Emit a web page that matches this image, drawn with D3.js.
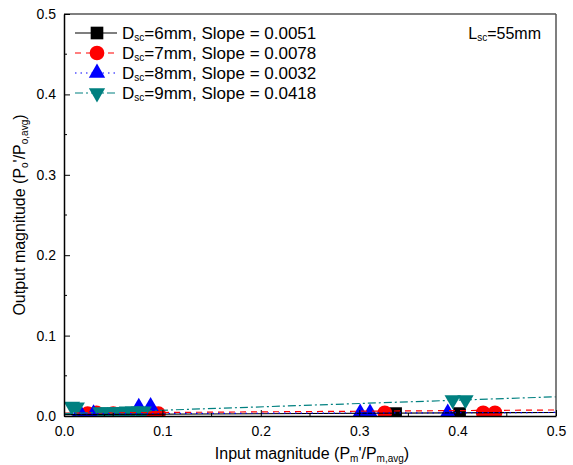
<!DOCTYPE html>
<html>
<head>
<meta charset="utf-8">
<script src="https://cdn.jsdelivr.net/npm/d3@7"></script>
<style>
  body { margin: 0; background: #fff; }
  svg text { font-family: "Liberation Sans", Arial, sans-serif; }
</style>
</head>
<body>
<div id="chart"></div>
<script>
// values (x = input magnitude, y = output magnitude)
const d6x = [0.020, 0.045, 0.060, 0.092, 0.337, 0.402];
const d6y = [0.002, 0.002, 0.003, 0.002, 0.003, 0.003];
const d7x = [0.024, 0.033, 0.050, 0.090, 0.096, 0.326, 0.426, 0.438];
const d7y = [0.003, 0.004, 0.003, 0.004, 0.003, 0.004, 0.004, 0.004];
const d8x = [0.016, 0.030, 0.076, 0.088, 0.301, 0.311, 0.390];
const d8y = [0.005, 0.003, 0.011, 0.012, 0.004, 0.004, 0.004];
const d9x = [0.008, 0.013, 0.037, 0.045, 0.052, 0.058, 0.064, 0.070, 0.076, 0.081, 0.395, 0.408];
const d9y = [0.012, 0.011, 0.005, 0.005, 0.005, 0.005, 0.006, 0.006, 0.006, 0.006, 0.020, 0.020];

const slopes = [0.0051, 0.0078, 0.0032, 0.0418];
const intercepts = [0.0018, 0.0036, 0.0028, 0.0030];
const labels = ["6mm", "7mm", "8mm", "9mm"];
const xTicks = [0, 0.1, 0.2, 0.3, 0.4, 0.5];
const yTicks = [0, 0.1, 0.2, 0.3, 0.4, 0.5];

const W = 573, H = 465;
const margin = { top: 14, right: 17, bottom: 49, left: 64 };
const iw = W - margin.left - margin.right;
const ih = H - margin.top - margin.bottom;

const svg = d3.select("#chart").append("svg")
    .attr("width", W)
    .attr("height", H);

const x = d3.scaleLinear().domain([0, 0.5]).range([0, iw]);
const y = d3.scaleLinear().domain([0, 0.5]).range([ih, 0]);

const g = svg.append("g").attr("transform", `translate(${margin.left},${margin.top})`);

g.append("defs").append("clipPath").attr("id", "clip")
    .append("rect").attr("x", 0).attr("y", 0).attr("width", iw).attr("height", ih + 1);

const series = [
    { xs: d6x, ys: d6y, color: "#000000", dash: null, shape: d3.symbolSquare, size: 160, flip: false },
    { xs: d7x, ys: d7y, color: "#ff0000", dash: "6,5", shape: d3.symbolCircle, size: 170, flip: false },
    { xs: d8x, ys: d8y, color: "#0000ff", dash: "1.5,4", shape: d3.symbolTriangle, size: 115, flip: false },
    { xs: d9x, ys: d9y, color: "#008080", dash: "8,3,2,3", shape: d3.symbolTriangle, size: 115, flip: true }
];

const plot = g.append("g").attr("clip-path", "url(#clip)");

series.forEach((s, i) => {
    const pts = s.xs.map((v, j) => [v, s.ys[j]]);
    const sym = d3.symbol().type(s.shape).size(s.size);
    plot.append("g").selectAll("path")
        .data(pts)
        .enter()
        .append("path")
        .attr("d", sym)
        .attr("transform", d => `translate(${x(d[0])},${y(d[1])})${s.flip ? " rotate(180)" : ""}`)
        .attr("fill", s.color);
});

// fitted lines over the whole range
series.forEach((s, i) => {
    const line = d3.line().x(d => x(d)).y(d => y(slopes[i] * d + intercepts[i]));
    plot.append("path")
        .datum([0, 0.5])
        .attr("d", line)
        .attr("fill", "none")
        .attr("stroke", s.color)
        .attr("stroke-width", 1.2)
        .attr("stroke-dasharray", s.dash);
});

// frame
g.append("line").attr("x1", 0).attr("x2", iw).attr("y1", 0).attr("y2", 0)
    .attr("stroke", "#555").attr("stroke-width", 1.5);
g.append("line").attr("x1", iw).attr("x2", iw).attr("y1", 0).attr("y2", ih)
    .attr("stroke", "#555").attr("stroke-width", 1.5);

// axes with inward ticks
const minor = d3.range(0.05, 0.5, 0.1);
const xAxis = g.append("g").attr("transform", `translate(0,${ih})`)
    .call(d3.axisBottom(x).tickValues(xTicks).tickFormat(d3.format(".1f")).tickSizeInner(-6).tickSizeOuter(0).tickPadding(10));
xAxis.append("g").selectAll("line").data(minor).enter().append("line")
    .attr("x1", d => x(d)).attr("x2", d => x(d)).attr("y1", 0).attr("y2", -3).attr("stroke", "#000");
const yAxis = g.append("g")
    .call(d3.axisLeft(y).tickValues(yTicks).tickFormat(d3.format(".1f")).tickSizeInner(-6).tickSizeOuter(0).tickPadding(8));
yAxis.append("g").selectAll("line").data(minor).enter().append("line")
    .attr("x1", 0).attr("x2", 3).attr("y1", d => y(d)).attr("y2", d => y(d)).attr("stroke", "#000");

[xAxis, yAxis].forEach(a => {
    a.select(".domain").attr("stroke", "#000").attr("stroke-width", 1.5);
    a.selectAll("text").attr("font-size", 14).attr("fill", "#000")
        .attr("font-family", "Liberation Sans, Arial, sans-serif");
});

// axis titles
const xt = svg.append("text")
    .attr("x", margin.left + iw / 2 + 2)
    .attr("y", H - 6)
    .attr("text-anchor", "middle")
    .attr("font-size", 16);
xt.append("tspan").text("Input magnitude (P");
xt.append("tspan").attr("font-size", 10).attr("dy", 3).text("m");
xt.append("tspan").attr("dy", -3).text("'/P");
xt.append("tspan").attr("font-size", 10).attr("dy", 3).text("m,avg");
xt.append("tspan").attr("dy", -3).text(")");

const yt = svg.append("text")
    .attr("transform", `translate(25,${margin.top + ih / 2}) rotate(-90)`)
    .attr("text-anchor", "middle")
    .attr("font-size", 16);
yt.append("tspan").text("Output magnitude (P");
yt.append("tspan").attr("font-size", 10).attr("dy", 3).text("o");
yt.append("tspan").attr("dy", -3).text("'/P");
yt.append("tspan").attr("font-size", 10).attr("dy", 3).text("o,avg");
yt.append("tspan").attr("dy", -3).text(")");

// legend
const leg = g.append("g").attr("transform", "translate(10,19)");
series.forEach((s, i) => {
    const row = leg.append("g").attr("transform", `translate(0,${i * 20})`);
    row.append("line").attr("x1", 1).attr("x2", 43).attr("y1", 0).attr("y2", 0)
        .attr("stroke", s.color).attr("stroke-width", 1.2).attr("stroke-dasharray", s.dash);
    row.append("path")
        .attr("d", d3.symbol().type(s.shape).size(s.size))
        .attr("transform", `translate(23,0)${s.flip ? " rotate(180)" : ""}`)
        .attr("fill", s.color);
    const t = row.append("text").attr("x", 48).attr("y", 6).attr("font-size", 17);
    t.append("tspan").text("D");
    t.append("tspan").attr("font-size", 10).attr("dy", 2).text("sc");
    t.append("tspan").attr("dy", -2).text(`=${labels[i]}, Slope = ${slopes[i].toFixed(4)}`);
});

const lt = g.append("text").attr("x", iw - 15).attr("y", 25)
    .attr("text-anchor", "end").attr("font-size", 16);
lt.append("tspan").text("L");
lt.append("tspan").attr("font-size", 10).attr("dy", 2).text("sc");
lt.append("tspan").attr("dy", -2).text("=55mm");
</script>
</body>
</html>
